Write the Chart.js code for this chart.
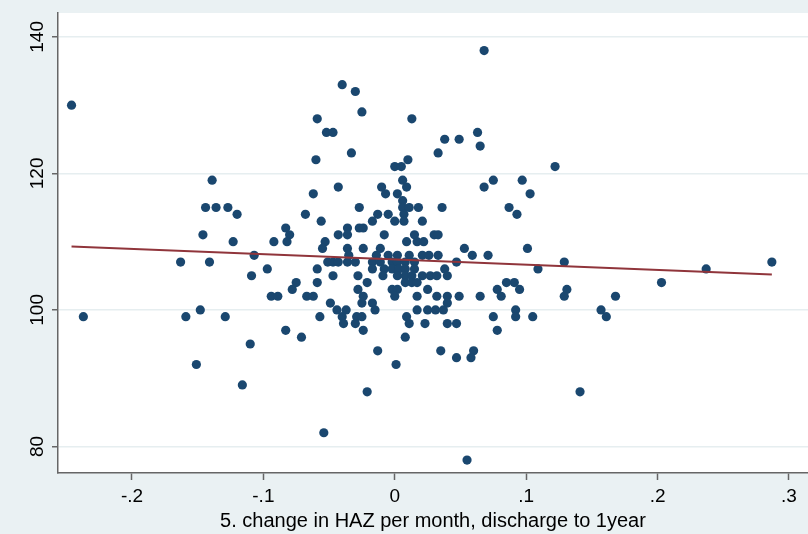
<!DOCTYPE html>
<html>
<head>
<meta charset="utf-8">
<script src="https://cdn.jsdelivr.net/npm/chart.js@4"></script>
<style>
  html, body { margin: 0; padding: 0; background: #eaf1f3; }
  #wrap { width: 808px; height: 534px; }
</style>
</head>
<body>
<div id="wrap"><canvas id="haz__chart-canvas" width="808" height="534"></canvas></div>
<script>
// change in HAZ per month (x) and outcome (y), one line per outcome value
const hazChange = [
    0.068,
    -0.040,
    -0.030,
    -0.246,
    -0.025,
    -0.059, 0.013,
    -0.052, -0.047, 0.063,
    0.038, 0.049,
    0.065,
    -0.033, 0.033,
    -0.060, 0.010,
    0.000, 0.005, 0.122,
    -0.139, 0.006, 0.075, 0.097,
    -0.043, -0.010, 0.009, 0.068,
    -0.062, -0.007, 0.002, 0.103,
    0.006,
    -0.144, -0.136, -0.127, -0.027, 0.006, 0.011, 0.018, 0.036, 0.087,
    -0.120, -0.068, -0.013, -0.005, 0.007, 0.093,
    -0.056, -0.017, 0.000, 0.007, 0.021,
    -0.083, -0.036, -0.027, -0.024,
    -0.146, -0.080, -0.043, -0.036, -0.008, 0.015, 0.030, 0.033,
    -0.123, -0.092, -0.082, -0.053, 0.009, 0.017, 0.022,
    -0.055, -0.036, -0.024, -0.011, 0.053, 0.101,
    -0.107, -0.035, -0.014, -0.005, 0.002, 0.011, 0.021, 0.026, 0.033, 0.059, 0.071,
    -0.163, -0.141, -0.051, -0.047, -0.043, -0.036, -0.030, -0.017, -0.011, -0.002, 0.002, 0.008, 0.015, 0.047, 0.129, 0.287,
    -0.097, -0.059, -0.017, -0.008, -0.002, 0.003, 0.008, 0.015, 0.038, 0.109, 0.237,
    -0.109, -0.047, -0.028, -0.009, 0.002, 0.008, 0.013, 0.021, 0.027, 0.032, 0.040,
    -0.075, -0.059, -0.021, 0.008, 0.013, 0.017, 0.085, 0.091, 0.203,
    -0.078, -0.028, -0.002, 0.002, 0.025, 0.078, 0.095, 0.131,
    -0.094, -0.089, -0.067, -0.062, -0.024, 0.000, 0.017, 0.032, 0.040, 0.049, 0.065, 0.081, 0.129, 0.168,
    -0.049, -0.025, -0.017, 0.040,
    -0.148, -0.044, -0.037, -0.015, 0.017, 0.025, 0.031, 0.037, 0.092, 0.157,
    -0.237, -0.159, -0.129, -0.057, -0.040, -0.029, -0.025, 0.009, 0.075, 0.092, 0.105, 0.161,
    -0.039, -0.030, 0.011, 0.023, 0.040, 0.047,
    -0.083, -0.024, 0.078,
    -0.071, 0.008,
    -0.110,
    -0.013, 0.035, 0.060,
    0.047, 0.058,
    -0.151, 0.001,
    -0.116,
    -0.021, 0.141,
    -0.054,
    0.055
];
const outcome = [
    138,
    133,
    132,
    130,
    129,
    128, 128,
    126, 126, 126,
    125, 125,
    124,
    123, 123,
    122, 122,
    121, 121, 121,
    119, 119, 119, 119,
    118, 118, 118, 118,
    117, 117, 117, 117,
    116,
    115, 115, 115, 115, 115, 115, 115, 115, 115,
    114, 114, 114, 114, 114, 114,
    113, 113, 113, 113, 113,
    112, 112, 112, 112,
    111, 111, 111, 111, 111, 111, 111, 111,
    110, 110, 110, 110, 110, 110, 110,
    109, 109, 109, 109, 109, 109,
    108, 108, 108, 108, 108, 108, 108, 108, 108, 108, 108,
    107, 107, 107, 107, 107, 107, 107, 107, 107, 107, 107, 107, 107, 107, 107, 107,
    106, 106, 106, 106, 106, 106, 106, 106, 106, 106, 106,
    105, 105, 105, 105, 105, 105, 105, 105, 105, 105, 105,
    104, 104, 104, 104, 104, 104, 104, 104, 104,
    103, 103, 103, 103, 103, 103, 103, 103,
    102, 102, 102, 102, 102, 102, 102, 102, 102, 102, 102, 102, 102, 102,
    101, 101, 101, 101,
    100, 100, 100, 100, 100, 100, 100, 100, 100, 100,
    99, 99, 99, 99, 99, 99, 99, 99, 99, 99, 99, 99,
    98, 98, 98, 98, 98, 98,
    97, 97, 97,
    96, 96,
    95,
    94, 94, 94,
    93, 93,
    92, 92,
    89,
    88, 88,
    82,
    78
];

// fitted line, ends
const fitX = [-0.246, 0.287];
const fitY = [109.3, 105.2];

const xTicks = [-0.2, -0.1, 0, 0.1, 0.2, 0.3];
const xTickLabels = ['-.2', '-.1', '0', '.1', '.2', '.3'];
const yTicks = [80, 100, 120, 140];
const yTickLabels = ['80', '100', '120', '140'];

const tickFont = { family: 'Liberation Sans', size: 19 };
const titleFont = { family: 'Liberation Sans', size: 20 };

const plotBg = {
    id: 'plotBg',
    beforeDraw(chart) {
        const { ctx, chartArea } = chart;
        ctx.save();
        ctx.fillStyle = '#ffffff';
        ctx.fillRect(chartArea.left, chartArea.top, chartArea.right - chartArea.left, chartArea.bottom - chartArea.top);
        ctx.restore();
    }
};

let hazChart = new Chart(document.getElementById("haz__chart-canvas").getContext("2d"), {
    type: 'scatter',
    data: {
        datasets: [{
            type: 'line',
            label: 'fit',
            data: fitX.map((x, i) => ({ x: x, y: fitY[i] })),
            borderColor: '#90353b',
            borderWidth: 2,
            pointRadius: 0,
            fill: false,
            order: 0
        }, {
            label: 'obs',
            data: hazChange.map((x, i) => ({ x: x, y: outcome[i] })),
            backgroundColor: '#1a476f',
            borderWidth: 0,
            pointRadius: 4.6,
            order: 1
        }]
    },
    options: {
        responsive: false,
        animation: false,
        layout: {
            autoPadding: false,
            padding: { top: 13, right: 0, bottom: 0, left: 0 }
        },
        plugins: {
            legend: { display: false },
            tooltip: { enabled: false }
        },
        scales: {
            x: {
                type: 'linear',
                min: -0.2563,
                max: 0.3145,
                afterBuildTicks: s => { s.ticks = xTicks.map(v => ({ value: v })); },
                afterFit: s => {
                    s.height = 61;
                    s.paddingLeft = 0;
                    s.paddingRight = 0;
                },
                ticks: {
                    callback: (v, i) => xTickLabels[i],
                    font: tickFont,
                    color: '#000',
                    padding: 5,
                    autoSkip: false,
                    maxRotation: 0
                },
                grid: {
                    drawOnChartArea: false,
                    drawTicks: true,
                    tickLength: 7,
                    tickColor: '#666',
                    tickWidth: 1.5
                },
                border: { display: true, color: '#666', width: 1.5 },
                title: {
                    display: true,
                    text: '5. change in HAZ per month, discharge to 1year',
                    font: titleFont,
                    color: '#000',
                    padding: { top: 0, bottom: 1 }
                }
            },
            y: {
                type: 'linear',
                min: 76.1,
                max: 143.5,
                afterBuildTicks: s => { s.ticks = yTicks.map(v => ({ value: v })); },
                afterFit: s => { s.width = 58; },
                ticks: {
                    callback: (v, i) => yTickLabels[i],
                    font: tickFont,
                    color: '#000',
                    minRotation: 90,
                    maxRotation: 90,
                    crossAlign: 'center',
                    padding: -2,
                    autoSkip: false
                },
                grid: {
                    color: '#e6eef0',
                    lineWidth: 1.5,
                    drawTicks: true,
                    tickLength: 6,
                    tickColor: '#666',
                    tickWidth: 1.5
                },
                border: { display: true, color: '#666', width: 1.5 }
            }
        }
    },
    plugins: [plotBg]
});
</script>
</body>
</html>
